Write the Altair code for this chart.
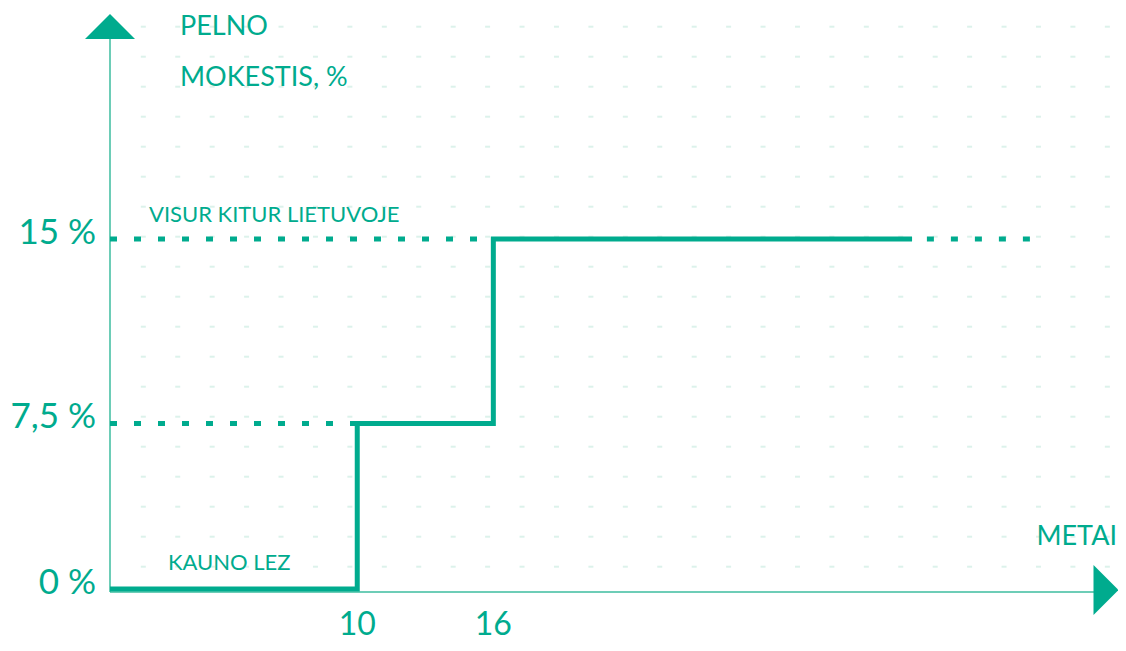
import altair as alt
import pandas as pd

TEAL = "#00AB8E"
AXIS = "#3DBC9F"
DOT = "#DCF2EB"
FONT = "Lato"

# step line (years -> profit tax %)
step_years = [0, 10, 16, 35.3]
step_rates = [0, 7.5, 15, 15]

# dotted reference segments
dot_seg = ["a", "a", "b", "b", "c", "c"]
dot_years = [0, 16, 0, 10, 36.0, 40.9]
dot_rates = [15, 15, 7.5, 7.5, 15, 15]

y_ticks = [15, 7.5, 0]
y_tick_labels = ["15 %", "7,5 %", "0 %"]
x_ticks = [10, 16]
x_tick_labels = ["10", "16"]

xs = alt.Scale(type="pow", exponent=0.933, domain=[0, 43.9], range=[102, 1085], nice=False, zero=False)
ys = alt.Scale(type="pow", exponent=1.08, domain=[0, 15], range=[581, 231], nice=False, zero=False)

# background dot grid (decoration, pixel positions)
grid = pd.DataFrame([(135.3 + 34.43 * i, 18.7 + 30 * j) for i in range(29) for j in range(19)], columns=["px", "py"])
grid_layer = alt.Chart(grid).mark_point(
    shape="M-1,-0.4L1,-0.4L1,0.4L-1,0.4Z", size=25, filled=True, color=DOT, opacity=1
).encode(x=alt.X("px:Q", scale=None), y=alt.Y("py:Q", scale=None))

yaxis = alt.Chart(pd.DataFrame({"a": [0]})).mark_rule(color=AXIS, strokeWidth=1.5).encode(
    x=alt.value(102), y=alt.value(30), y2=alt.value(584))
xaxis = alt.Chart(pd.DataFrame({"a": [0]})).mark_rule(color=AXIS, strokeWidth=1.5).encode(
    x=alt.value(102), x2=alt.value(1086), y=alt.value(584))
up_arrow = alt.Chart(pd.DataFrame({"a": [0]})).mark_point(
    shape="M-1,0.5L0,-0.5L1,0.5Z", size=2500, filled=True, color=TEAL, opacity=1
).encode(x=alt.value(102), y=alt.value(18.5))
right_arrow = alt.Chart(pd.DataFrame({"a": [0]})).mark_point(
    shape="M-0.5,-1L0.5,0L-0.5,1Z", size=2500, filled=True, color=TEAL, opacity=1
).encode(x=alt.value(1098), y=alt.value(582))

dots_df = pd.DataFrame({"seg": dot_seg, "year": dot_years, "rate": dot_rates})
dotted = alt.Chart(dots_df).mark_line(
    color=TEAL, strokeWidth=5, strokeDash=[7, 17], strokeCap="butt"
).encode(
    x=alt.X("year:Q", scale=xs, axis=None),
    y=alt.Y("rate:Q", scale=ys, axis=None),
    detail="seg:N",
)

step_df = pd.DataFrame({"year": step_years, "rate": step_rates})
step = alt.Chart(step_df).mark_line(
    color=TEAL, strokeWidth=5, interpolate="step-after", strokeCap="butt", strokeJoin="miter"
).encode(
    x=alt.X("year:Q", scale=xs, axis=None),
    y=alt.Y("rate:Q", scale=ys, axis=None),
)

ylab_df = pd.DataFrame({"rate": y_ticks, "label": y_tick_labels})
ylabels = alt.Chart(ylab_df).mark_text(
    align="right", baseline="alphabetic", dy=5, font=FONT, fontSize=35, color=TEAL
).encode(x=alt.value(88), y=alt.Y("rate:Q", scale=ys, axis=None), text="label:N")

xlab_df = pd.DataFrame({"year": x_ticks, "label": x_tick_labels})
xlabels = alt.Chart(xlab_df).mark_text(
    align="center", baseline="alphabetic", font=FONT, fontSize=32, color=TEAL
).encode(x=alt.X("year:Q", scale=xs, axis=None), y=alt.value(627), text="label:N")

ann_df = pd.DataFrame({
    "t": ["PELNO", "MOKESTIS, %", "METAI", "VISUR KITUR LIETUVOJE", "KAUNO LEZ"],
    "px": [172, 172, 1109, 141, 160],
    "py": [27, 78, 537, 213.5, 562],
    "fs": [27, 27, 27, 22, 22],
    "al": ["left", "left", "right", "left", "left"],
})
def ann(row_idx):
    r = ann_df.iloc[[row_idx]]
    return alt.Chart(r).mark_text(
        align=r["al"].iloc[0], baseline="alphabetic", font=FONT,
        fontSize=float(r["fs"].iloc[0]), color=TEAL
    ).encode(x=alt.value(float(r["px"].iloc[0])), y=alt.value(float(r["py"].iloc[0])), text="t:N")

annotations = [ann(i) for i in range(len(ann_df))]

chart = alt.layer(
    grid_layer, yaxis, xaxis, up_arrow, right_arrow, dotted, step, ylabels, xlabels, *annotations
).properties(
    width=1110, height=635, autosize=alt.AutoSizeParams(type="none"), padding=0,
    background="white"
).configure_view(strokeWidth=0)

chart.save("out.html", embed_options={"renderer": "svg", "actions": False})
